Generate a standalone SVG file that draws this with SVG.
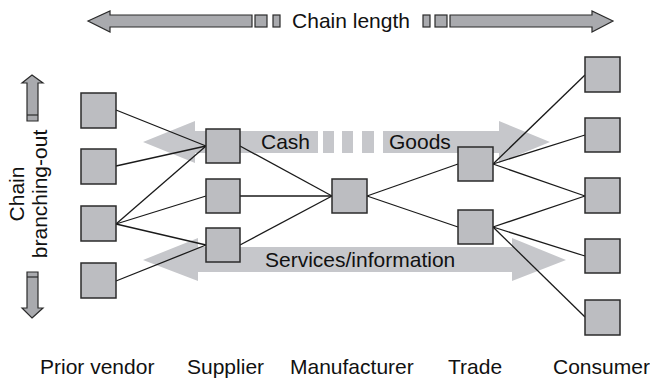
<svg xmlns="http://www.w3.org/2000/svg" width="650" height="378" viewBox="0 0 650 378">
  <defs>
    <style>
      .lbl { font-family: "Liberation Sans", Arial, sans-serif; font-size: 21px; fill: #111; }
      .node { fill: #bcbdc1; stroke: #2b2b2b; stroke-width: 1.5; }
      .flow { fill: #c6c7cb; stroke: none; }
      .dim { fill: #a9aaae; stroke: #2b2b2b; stroke-width: 1.2; stroke-linejoin: miter; }
      .link { stroke: #1a1a1a; stroke-width: 1.3; fill: none; }
    </style>
  </defs>
  <rect width="650" height="378" fill="#ffffff"/>

  <!-- chain length dimension arrow -->
  <g id="chain-length">
    <polygon class="dim" points="88,21 110,11 110,15 252,15 252,27 110,27 110,32"/>
    <rect class="dim" x="255" y="15" width="12" height="12"/>
    <rect class="dim" x="273" y="15" width="7" height="12"/>
    <rect class="dim" x="423" y="15" width="7" height="12"/>
    <rect class="dim" x="435" y="15" width="12" height="12"/>
    <polygon class="dim" points="613,21 592,11 592,15 450,15 450,27 592,27 592,32"/>
    <text class="lbl" x="351" y="28" text-anchor="middle">Chain length</text>
  </g>

  <!-- chain branching-out dimension arrows -->
  <g id="chain-branching">
    <polygon class="dim" points="32,75 43,83 38,83 38,121 27,121 27,83 22,83"/>
    <line x1="27" y1="115" x2="38" y2="115" stroke="#2b2b2b" stroke-width="1.2"/>
    <polygon class="dim" points="32,318 43,308 38,308 38,272 27,272 27,308 22,308"/>
    <line x1="27" y1="277" x2="38" y2="277" stroke="#2b2b2b" stroke-width="1.2"/>
    <text class="lbl" transform="translate(24,194) rotate(-90)" text-anchor="middle">Chain</text>
    <text class="lbl" transform="translate(47,194) rotate(-90)" text-anchor="middle">branching-out</text>
  </g>

  <!-- background flows -->
  <g id="flows">
    <polygon class="flow" points="143,142 195,121 195,131 318,131 318,153 195,153 195,163"/>
    <rect class="flow" x="323" y="131" width="11" height="22"/>
    <rect class="flow" x="342" y="131" width="11" height="22"/>
    <rect class="flow" x="362" y="131" width="12" height="22"/>
    <polygon class="flow" points="550,142 499,121 499,131 383,131 383,153 499,153 499,163"/>
    <polygon class="flow" points="143,260 198,238 198,247 512,247 512,238 566,260 512,281 512,272 198,272 198,281"/>
    <text class="lbl" x="261" y="149">Cash</text>
    <text class="lbl" x="389" y="149">Goods</text>
    <text class="lbl" x="265" y="267">Services/information</text>
  </g>

  <!-- connectors -->
  <g id="connectors" class="link">
    <line x1="116" y1="110" x2="206" y2="146"/>
    <line x1="116" y1="166" x2="206" y2="146"/>
    <line x1="116" y1="224" x2="206" y2="146"/>
    <line x1="116" y1="224" x2="206" y2="196"/>
    <line x1="116" y1="224" x2="206" y2="245"/>
    <line x1="116" y1="281" x2="206" y2="245"/>
    <line x1="240" y1="146" x2="332" y2="196"/>
    <line x1="240" y1="196" x2="332" y2="196"/>
    <line x1="240" y1="245" x2="332" y2="196"/>
    <line x1="367" y1="196" x2="458" y2="164"/>
    <line x1="367" y1="196" x2="458" y2="227"/>
    <line x1="493" y1="164" x2="585" y2="75"/>
    <line x1="493" y1="164" x2="585" y2="135"/>
    <line x1="493" y1="164" x2="585" y2="196"/>
    <line x1="493" y1="227" x2="585" y2="196"/>
    <line x1="493" y1="227" x2="585" y2="256"/>
    <line x1="493" y1="227" x2="585" y2="317"/>
  </g>

  <!-- prior vendors -->
  <g id="prior-vendor-1"><rect class="node" x="81" y="93" width="35" height="35"/></g>
  <g id="prior-vendor-2"><rect class="node" x="81" y="149" width="35" height="35"/></g>
  <g id="prior-vendor-3"><rect class="node" x="81" y="206" width="35" height="35"/></g>
  <g id="prior-vendor-4"><rect class="node" x="81" y="263" width="35" height="35"/></g>

  <!-- suppliers -->
  <g id="supplier-1"><rect class="node" x="206" y="129" width="34" height="34"/></g>
  <g id="supplier-2"><rect class="node" x="206" y="179" width="34" height="34"/></g>
  <g id="supplier-3"><rect class="node" x="206" y="228" width="34" height="34"/></g>

  <!-- manufacturer -->
  <g id="manufacturer"><rect class="node" x="332" y="179" width="35" height="34"/></g>

  <!-- trade -->
  <g id="trade-1"><rect class="node" x="458" y="147" width="35" height="34"/></g>
  <g id="trade-2"><rect class="node" x="458" y="210" width="35" height="34"/></g>

  <!-- consumers -->
  <g id="consumer-1"><rect class="node" x="585" y="57" width="35" height="35"/></g>
  <g id="consumer-2"><rect class="node" x="585" y="118" width="35" height="34"/></g>
  <g id="consumer-3"><rect class="node" x="585" y="178" width="35" height="35"/></g>
  <g id="consumer-4"><rect class="node" x="585" y="239" width="35" height="34"/></g>
  <g id="consumer-5"><rect class="node" x="585" y="300" width="35" height="35"/></g>

  <!-- stage labels -->
  <g id="stage-labels">
    <text class="lbl" x="40" y="374">Prior vendor</text>
    <text class="lbl" x="187" y="374">Supplier</text>
    <text class="lbl" x="290" y="374">Manufacturer</text>
    <text class="lbl" x="448" y="374">Trade</text>
    <text class="lbl" x="553" y="374">Consumer</text>
  </g>
</svg>
